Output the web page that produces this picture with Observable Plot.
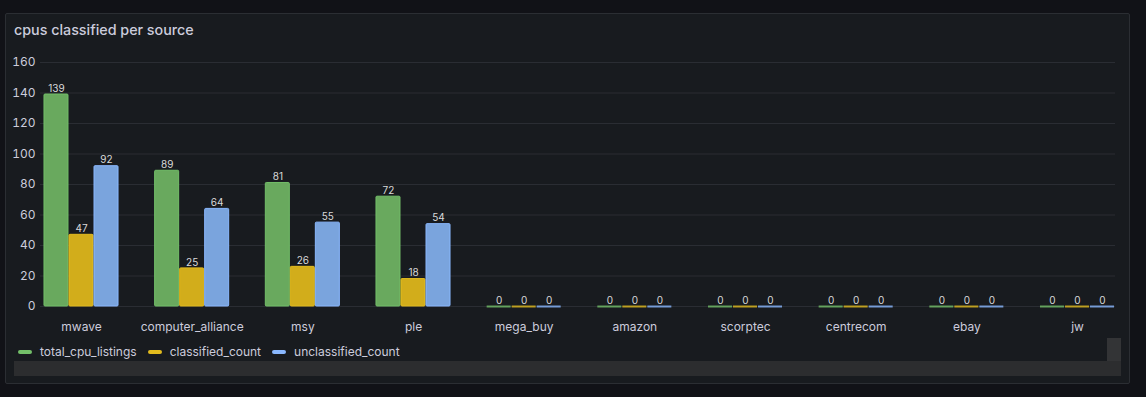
<!DOCTYPE html>
<html><head><meta charset="utf-8">
<script src="https://cdn.jsdelivr.net/npm/d3@7"></script>
<script src="https://cdn.jsdelivr.net/npm/@observablehq/plot@0.6"></script>
<style>
body{margin:0;background:#111217;width:1146px;height:397px;overflow:hidden;font-family:Inter,"Noto Sans",sans-serif;position:relative;}
#panel{position:absolute;left:5px;top:13px;width:1123px;height:369px;background:#181b1f;border:1px solid #2b2e33;border-radius:2px;}
#title{position:absolute;left:14px;top:21px;font-size:14.3px;font-weight:500;color:#ccccdc;}
#grid,#chart{position:absolute;left:0;top:45px;}
#legend{position:absolute;left:18px;top:344px;display:flex;align-items:center;font-size:12px;color:#ccccdc;}
.item{display:flex;align-items:center;margin-right:11px;}
.sw{width:14px;height:4px;border-radius:2px;margin-right:8px;}
#hscroll{position:absolute;left:14px;top:361px;width:1107px;height:15px;background:#2c2d2f;}
#vscroll{position:absolute;left:1107px;top:338px;width:14px;height:23px;background:#333436;}
</style></head>
<body>
<div id="panel"></div>
<div id="title">cpus classified per source</div>
<div id="grid"></div>
<div id="chart"></div>
<div id="legend"></div>
<div id="vscroll"></div>
<div id="hscroll"></div>
<script>
const sources = ["mwave","computer_alliance","msy","ple","mega_buy","amazon","scorptec","centrecom","ebay","jw"];
const seriesNames = ["total_cpu_listings","classified_count","unclassified_count"];
const totalCpuListings = [139,89,81,72,0,0,0,0,0,0];
const classifiedCount = [47,25,26,18,0,0,0,0,0,0];
const unclassifiedCount = [92,64,55,54,0,0,0,0,0,0];
const yTicks = [0,20,40,60,80,100,120,140,160];
const fillColors = ["#69a95e","#d2ad1b","#7aa4dd"];
const strokeColors = ["#73bf69","#e2bb1e","#8ab8ff"];

const seriesValues = [totalCpuListings, classifiedCount, unclassifiedCount];
const data = [];
sources.forEach((s, i) => seriesNames.forEach((n, j) => data.push({source: s, series: n, value: seriesValues[j][i]})));
const zeroData = data.filter(d => d.value === 0);

const common = {
  width: 1146, height: 295,
  marginLeft: 40, marginTop: 17, marginBottom: 34,
  style: {background: "transparent", color: "#ccccdc", fontFamily: "Inter, 'Noto Sans', sans-serif", fontSize: "12px"}
};

// background: y axis + continuous grid
const grid = Plot.plot({
  ...common, marginRight: 31,
  y: {domain: [0, 160], ticks: yTicks, tickSize: 0, tickPadding: 5, label: null},
  marks: [
    Plot.ruleY(yTicks, {stroke: "#2a2d33", strokeWidth: 1})
  ]
});
document.getElementById("grid").appendChild(grid);

const colorOf = d => strokeColors[seriesNames.indexOf(d.series)];
const chart = Plot.plot({
  ...common, marginRight: 28,
  fx: {domain: sources, paddingInner: 0.331, paddingOuter: 0.036, round: false, label: null, tickSize: 0, tickPadding: 16},
  x: {domain: seriesNames, paddingInner: 0.04, paddingOuter: 0, round: false, axis: null},
  y: {domain: [0, 160], axis: null},
  marks: [
    Plot.barY(data, {fx: "source", x: "series", y: "value",
      fill: d => fillColors[seriesNames.indexOf(d.series)],
      stroke: colorOf, strokeWidth: 1, rx: 1}),
    Plot.tickY(zeroData, {fx: "source", x: "series", y: "value", stroke: colorOf, strokeWidth: 2, strokeOpacity: 0.8}),
    Plot.text(data, {fx: "source", x: "series", y: "value", text: d => String(d.value),
      dy: -6, fontSize: 10, fill: "#d8d9da"})
  ]
});
document.getElementById("chart").appendChild(chart);

const legend = document.getElementById("legend");
seriesNames.forEach((n, j) => {
  const it = document.createElement("div"); it.className = "item";
  const sw = document.createElement("div"); sw.className = "sw"; sw.style.background = strokeColors[j];
  const tx = document.createElement("span"); tx.textContent = n;
  it.appendChild(sw); it.appendChild(tx); legend.appendChild(it);
});
</script>
</body></html>
